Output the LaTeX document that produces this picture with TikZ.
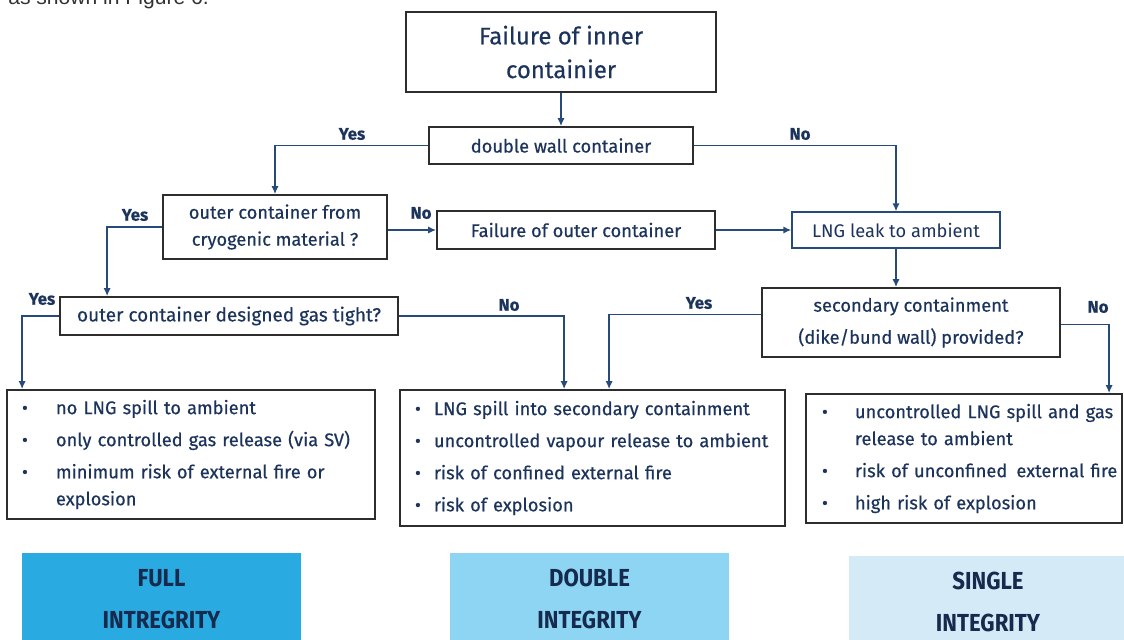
\documentclass[tikz,border=0pt]{standalone}
\usepackage{fontspec}
\setmainfont{Fira Sans}[FakeBold=0.5]
\newfontfamily\lightfont{Fira Sans}
\newfontfamily\condfont[FakeStretch=0.9]{Fira Sans}
\newfontfamily\pagefont{Liberation Sans}
\usetikzlibrary{arrows.meta, positioning, calc}
\definecolor{inkblue}{RGB}{28,52,92}
\definecolor{lineblue}{RGB}{38,74,122}
\definecolor{boxgray}{RGB}{45,45,45}
\definecolor{pagegray}{RGB}{50,50,50}
\definecolor{fullblue}{RGB}{41,171,226}
\definecolor{doubleblue}{RGB}{141,213,243}
\definecolor{singleblue}{RGB}{213,234,247}
\definecolor{tagnavy}{RGB}{22,42,78}
\newcommand{\bul}[1]{\makebox[#1][l]{\textbullet}}

\begin{document}
\begin{tikzpicture}[
    x=0.025cm, y=-0.025cm,            % one unit = one pixel of the sketch
    font=\fontsize{13}{15}\selectfont,
    qbox/.style={draw=boxgray, line width=1.2pt, text=inkblue, align=center, inner sep=0pt},
    leakbox/.style={qbox, draw=lineblue, line width=0.9pt, font=\lightfont\fontsize{13}{15}\selectfont},
    outbox/.style={draw=boxgray, line width=1.2pt, text=inkblue, align=left, inner ysep=0pt, inner xsep=0.375cm},
    tagbox/.style={fill=#1, text=tagnavy, align=center, anchor=north, minimum width=6.95cm, minimum height=2.3cm, font=\condfont\bfseries\fontsize{17.5}{30}\selectfont},
    lbl/.style={text=inkblue, font=\fontsize{12}{14}\selectfont\bfseries},
    conn/.style={draw=lineblue, line width=1.1pt},
    arr/.style={conn, -{Latex[length=2mm, width=1.8mm]}}
    ]
    \useasboundingbox (0,0) rectangle (1124,639);

    % text of the page above the figure
    \node[anchor=base west, text=pagegray, font=\pagefont\fontsize{15}{18}\selectfont, inner sep=0pt] (figref) at (8,4) {as shown in Figure 6.};

    % Decision boxes
    \node[qbox, minimum width=7.75cm, minimum height=2cm, font=\fontsize{17}{24}\selectfont] (inner) at (561,52) {Failure of inner\\containier};
    \node[qbox, minimum width=6.6cm, minimum height=0.925cm] (dwall) at (561,145.5) {double wall container};
    \node[qbox, minimum width=5.6cm, minimum height=1.6cm, font=\fontsize{13}{19.2}\selectfont] (cryo) at (275,227) {outer container from\\cryogenic material ?};
    \node[qbox, minimum width=8.45cm, minimum height=0.95cm, font=\fontsize{13.5}{15}\selectfont] (gastight) at (229,316) {outer container designed gas tight?};
    \node[qbox, minimum width=6.95cm, minimum height=0.95cm] (outerfail) at (576,230) {Failure of outer container};
    \node[leakbox, minimum width=5.2cm, minimum height=0.9cm] (leak) at (896,230) {LNG leak to ambient};
    \node[qbox, minimum width=7.45cm, minimum height=1.725cm, font=\fontsize{13}{22.8}\selectfont] (second) at (911,322.5) {secondary containment\\(dike/bund wall) provided?};

    % Outcome boxes
    \node[outbox, text width=8.45cm, minimum height=3.225cm, font=\fontsize{13}{19.2}\selectfont] (outA) at (191,454.5)
        {\bul{0.85cm}no LNG spill to ambient\\[3.6pt]
         \bul{0.85cm}only controlled gas release (via SV)\\[3.6pt]
         \bul{0.85cm}minimum risk of external fire or\\
         \hspace*{0.85cm}explosion};
    \node[outbox, text width=8.875cm, minimum height=3.4cm, font=\fontsize{13}{22.8}\selectfont] (outB) at (592.5,458)
        {\bul{0.475cm}LNG spill into secondary containment\\
         \bul{0.475cm}uncontrolled vapour release to ambient\\
         \bul{0.475cm}risk of confined external fire\\
         \bul{0.475cm}risk of explosion};
    \node[outbox, inner xsep=0.1cm, text width=7.7cm, minimum height=3.225cm, font=\fontsize{13}{19.2}\selectfont] (outC) at (964,458.5)
        {\hspace*{0.3cm}\bul{0.825cm}uncontrolled LNG spill and gas\\
         \hspace*{1.125cm}release to ambient\\[3.6pt]
         \hspace*{0.3cm}\bul{0.825cm}risk of unconfined\ \,external fire\\[3.6pt]
         \hspace*{0.3cm}\bul{0.825cm}high risk of explosion};

    % Integrity classes
    \node[tagbox=fullblue] (full) at (161.5,553) {FULL\\INTREGRITY};
    \node[tagbox=doubleblue] (double) at (589.5,553) {DOUBLE\\INTEGRITY};
    \node[tagbox=singleblue] (single) at (988,556) {SINGLE\\INTEGRITY};

    % Connectors
    \draw[arr] (inner) -- (dwall);
    \draw[arr] (dwall.west) -| (cryo.north);
    \draw[arr] (dwall.east) -| (leak.north);
    \draw[arr] (cryo.west) -| ($(gastight.north west)+(48,0)$);
    \draw[arr] (outerfail.west -| cryo.east) -- (outerfail.west);
    \draw[arr] (outerfail.east) -- (leak.west);
    \draw[arr] (leak.south) -- (leak.south |- second.north);
    \draw[arr] (gastight.west) -| ($(outA.north west)+(16,0)$);
    \draw[arr] (gastight.east) -| ($(outB.north west)+(165,0)$);
    \draw[arr] ($(second.west)+(0,-8)$) -| ($(outB.north west)+(210,0)$);
    \draw[arr] ($(second.east)+(0,2)$) -| ($(outC.north west)+(304,0)$);

    % Branch labels
    \node[lbl] (yes1) at (352,134) {Yes};
    \node[lbl] (no1) at (800,134) {No};
    \node[lbl] (yes2) at (135,215) {Yes};
    \node[lbl] (no2) at (421,213) {No};
    \node[lbl] (yes3) at (42,299) {Yes};
    \node[lbl] (no3) at (509,305) {No};
    \node[lbl] (yes4) at (699,303) {Yes};
    \node[lbl] (no4) at (1098,307) {No};
\end{tikzpicture}
\end{document}
